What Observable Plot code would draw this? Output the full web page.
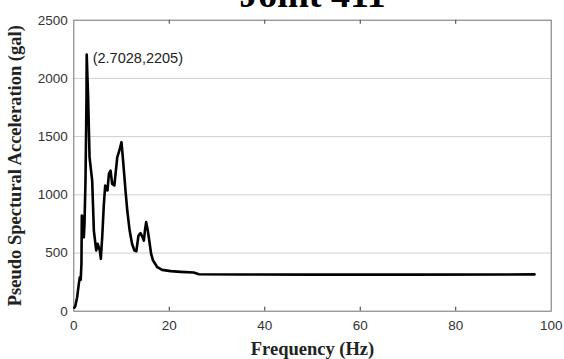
<!DOCTYPE html>
<html>
<head>
<meta charset="utf-8">
<script src="https://cdn.jsdelivr.net/npm/d3@7"></script>
<script src="https://cdn.jsdelivr.net/npm/@observablehq/plot@0.6"></script>
<style>
  html, body { margin: 0; padding: 0; background: #fff; }
  #chart { width: 564px; height: 359px; overflow: hidden; }
</style>
</head>
<body>
<div id="chart"></div>
<script>
const titleText = "Joint 411";
const xLabel = "Frequency (Hz)";
const yLabel = "Pseudo Spectural Acceleration (gal)";
const freq = [0.1,0.3,0.7,1.05,1.26,1.45,1.6,1.68,1.97,2.1,2.24,2.45,2.66,2.7028,3.0,3.3,3.85,4.2,4.7,5.0,5.45,5.66,5.95,6.3,6.58,6.85,7.06,7.35,7.7,8.04,8.5,9.1,9.64,9.99,10.35,10.83,11.2,11.7,12.2,12.7,13.1,13.55,13.97,14.4,14.67,14.9,15.16,15.5,15.9,16.2,16.6,17.5,18.5,20.3,22.4,25.1,26.2,35,50,70,96.5];
const psa = [30,40,120,235,292,270,407,822,807,636,750,1122,1838,2205,1838,1322,1122,693,521,579,521,450,636,922,1080,1065,1037,1180,1208,1094,1080,1322,1394,1452,1280,1037,865,693,579,521,515,650,670,636,607,693,765,693,579,493,435,378,355,344,338,332,318,315,314,314,316];
const xTicks = [0,20,40,60,80,100];
const yTicks = [0,500,1000,1500,2000,2500];
const yGrid = [500,1000,1500,2000];
const peak = [{f: 2.7028, v: 2205, label: "(2.7028,2205)"}];

const data = freq.map((f, i) => ({f, v: psa[i]}));
const innerTicks = xTicks.slice(1, -1);

const mt = 19.7, mb = 48.3, ml = 73.3, mr = 13.3, H = 359;
const plotH = H - mt - mb;
const serif = "'Liberation Serif', 'Times New Roman', serif";

const chart = Plot.plot({
  width: 564,
  height: H,
  marginTop: mt,
  marginBottom: mb,
  marginLeft: ml,
  marginRight: mr,
  style: {background: "#fff", fontFamily: "'Liberation Sans', Arial, sans-serif", overflow: "visible"},
  x: {domain: [0, 100]},
  y: {domain: [0, 2500]},
  marks: [
    Plot.gridY(yGrid, {stroke: "#cfcfcf", strokeOpacity: 1, strokeWidth: 1}),
    Plot.axisX(xTicks, {tickSize: 0, tickPadding: 9, fontSize: 13.5, fill: "#333", label: null, tickFormat: d => String(d)}),
    Plot.axisY(yTicks, {tickSize: 0, tickPadding: 6, fontSize: 13.5, fill: "#333", label: null, tickFormat: d => String(d)}),
    Plot.tickX(innerTicks, {x: d => d, stroke: "#333", insetTop: plotH - 4}),
    Plot.tickX(innerTicks, {x: d => d, stroke: "#333", insetBottom: plotH - 4}),
    Plot.frame({stroke: "#707070", strokeWidth: 1}),
    Plot.line(data, {x: "f", y: "v", stroke: "#000", strokeWidth: 2.6, strokeLinejoin: "round"}),
    Plot.text(peak, {x: "f", y: "v", text: "label", textAnchor: "start", dx: 6, dy: 4, fontSize: 14.5, fill: "#222"}),
    Plot.text([titleText], {frameAnchor: "top", text: d => d, dy: -13, lineAnchor: "bottom", textAnchor: "middle", fontSize: 38, fontWeight: "bold", fontFamily: serif, fill: "#000"}),
    Plot.text([xLabel], {frameAnchor: "bottom", text: d => d, dy: 44, lineAnchor: "bottom", textAnchor: "middle", fontSize: 18.5, fontWeight: "bold", fontFamily: serif, fill: "#222"}),
    Plot.text([yLabel], {frameAnchor: "left", text: d => d, dx: -59, rotate: -90, textAnchor: "middle", lineAnchor: "middle", fontSize: 18.5, fontWeight: "bold", fontFamily: serif, fill: "#222"})
  ]
});
document.getElementById("chart").appendChild(chart);
</script>
</body>
</html>
